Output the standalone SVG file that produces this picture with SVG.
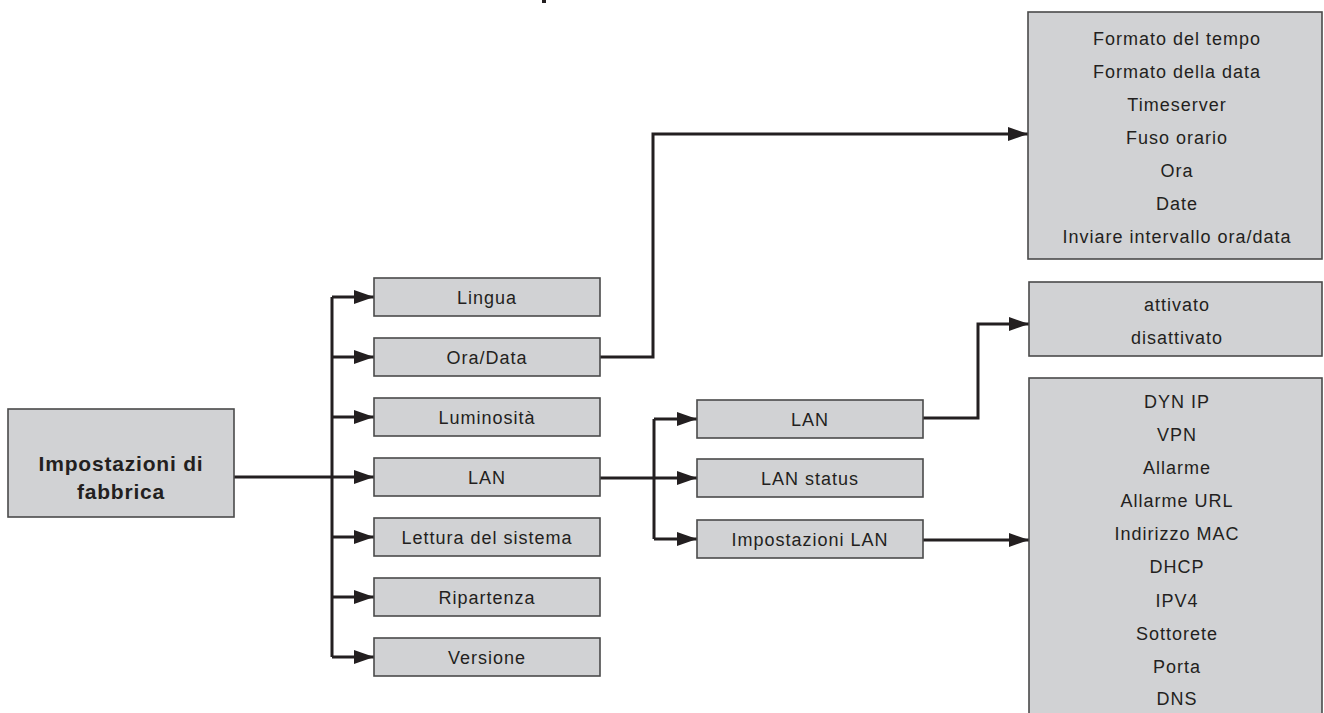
<svg xmlns="http://www.w3.org/2000/svg" width="1324" height="713" viewBox="0 0 1324 713">
<style>
.box{fill:#d1d2d4;stroke:#4a4a4a;stroke-width:1.6}
.t{font-family:"Liberation Sans",Arial,sans-serif;font-size:18px;letter-spacing:1px;fill:#231f20;text-anchor:middle}
.b{font-family:"Liberation Sans",Arial,sans-serif;font-size:21px;font-weight:bold;letter-spacing:0.8px;fill:#231f20;text-anchor:middle}
.c{fill:none;stroke:#231f20;stroke-width:3}
</style>
<defs>
<marker id="ah" viewBox="0 0 20 14" refX="20" refY="7" markerWidth="20" markerHeight="14" markerUnits="userSpaceOnUse" orient="auto">
<path d="M0,0 L20,7 L0,14 Z" fill="#231f20"/>
</marker>
</defs>
<rect x="542" y="0" width="4" height="3" fill="#231f20"/>
<g id="connectors">
<path class="c" d="M234,477 H332"/>
<path class="c" d="M332,297 V657"/>
<path class="c" d="M332,297 H374" marker-end="url(#ah)"/>
<path class="c" d="M332,357 H374" marker-end="url(#ah)"/>
<path class="c" d="M332,417 H374" marker-end="url(#ah)"/>
<path class="c" d="M332,477 H374" marker-end="url(#ah)"/>
<path class="c" d="M332,537 H374" marker-end="url(#ah)"/>
<path class="c" d="M332,597 H374" marker-end="url(#ah)"/>
<path class="c" d="M332,657 H374" marker-end="url(#ah)"/>
<path class="c" d="M600,357 H653 V134 H1028" marker-end="url(#ah)"/>
<path class="c" d="M600,478 H697" marker-end="url(#ah)"/>
<path class="c" d="M654,419 V539"/>
<path class="c" d="M654,419 H697" marker-end="url(#ah)"/>
<path class="c" d="M654,539 H697" marker-end="url(#ah)"/>
<path class="c" d="M923,418 H978 V324 H1029" marker-end="url(#ah)"/>
<path class="c" d="M923,540 H1029" marker-end="url(#ah)"/>
</g>
<g id="root">
<rect class="box" x="8" y="409" width="226" height="108"/>
<text class="b" x="121" y="471">Impostazioni di</text>
<text class="b" x="121" y="499">fabbrica</text>
</g>
<g id="lingua"><rect class="box" x="374" y="278" width="226" height="38"/><text class="t" x="487" y="304">Lingua</text></g>
<g id="oradata"><rect class="box" x="374" y="338" width="226" height="38"/><text class="t" x="487" y="364">Ora/Data</text></g>
<g id="luminosita"><rect class="box" x="374" y="398" width="226" height="38"/><text class="t" x="487" y="424">Luminosità</text></g>
<g id="lan1"><rect class="box" x="374" y="458" width="226" height="38"/><text class="t" x="487" y="484">LAN</text></g>
<g id="lettura"><rect class="box" x="374" y="518" width="226" height="38"/><text class="t" x="487" y="544">Lettura del sistema</text></g>
<g id="ripartenza"><rect class="box" x="374" y="578" width="226" height="38"/><text class="t" x="487" y="604">Ripartenza</text></g>
<g id="versione"><rect class="box" x="374" y="638" width="226" height="38"/><text class="t" x="487" y="664">Versione</text></g>
<g id="lan2"><rect class="box" x="697" y="400" width="226" height="38"/><text class="t" x="810" y="426">LAN</text></g>
<g id="lanstatus"><rect class="box" x="697" y="459" width="226" height="38"/><text class="t" x="810" y="485">LAN status</text></g>
<g id="impostazionilan"><rect class="box" x="697" y="520" width="226" height="38"/><text class="t" x="810" y="546">Impostazioni LAN</text></g>
<g id="oradata-list">
<rect class="box" x="1028" y="12" width="294" height="247"/>
<text class="t" x="1177" y="45">Formato del tempo</text>
<text class="t" x="1177" y="78">Formato della data</text>
<text class="t" x="1177" y="111">Timeserver</text>
<text class="t" x="1177" y="144">Fuso orario</text>
<text class="t" x="1177" y="177">Ora</text>
<text class="t" x="1177" y="210">Date</text>
<text class="t" x="1177" y="243">Inviare intervallo ora/data</text>
</g>
<g id="lan-state">
<rect class="box" x="1029" y="282" width="293" height="74"/>
<text class="t" x="1177" y="311">attivato</text>
<text class="t" x="1177" y="344">disattivato</text>
</g>
<g id="lan-settings">
<rect class="box" x="1029" y="378" width="293" height="345"/>
<text class="t" x="1177" y="408">DYN IP</text>
<text class="t" x="1177" y="441">VPN</text>
<text class="t" x="1177" y="474">Allarme</text>
<text class="t" x="1177" y="507">Allarme URL</text>
<text class="t" x="1177" y="540">Indirizzo MAC</text>
<text class="t" x="1177" y="573">DHCP</text>
<text class="t" x="1177" y="607">IPV4</text>
<text class="t" x="1177" y="640">Sottorete</text>
<text class="t" x="1177" y="673">Porta</text>
<text class="t" x="1177" y="705">DNS</text>
</g>
</svg>
